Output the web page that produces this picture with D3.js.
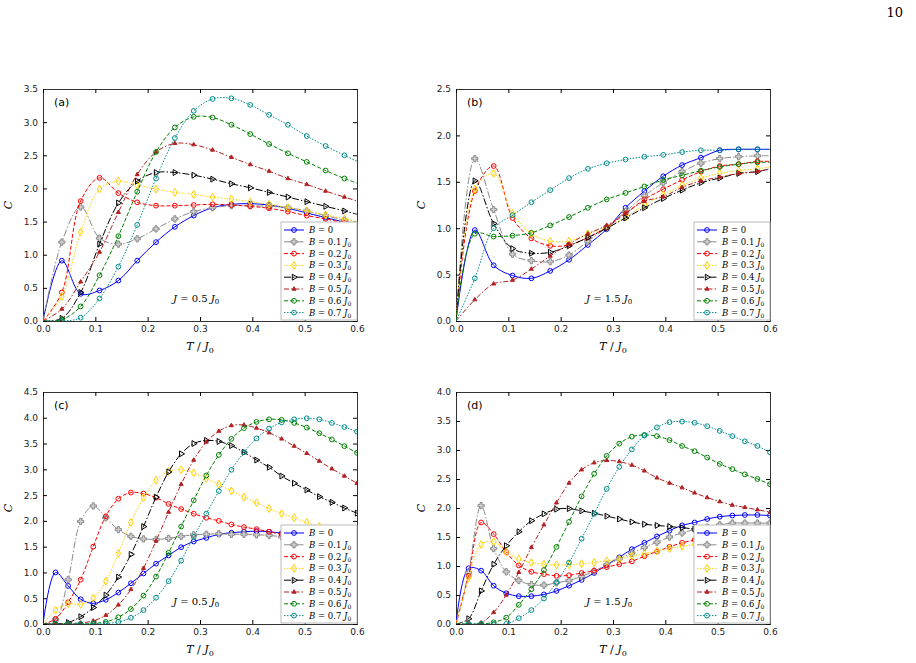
<!DOCTYPE html>
<html><head><meta charset="utf-8">
<script src="https://cdn.jsdelivr.net/npm/d3@7"></script>
<style>body{margin:0;background:#fff}svg{display:block}</style>
</head><body>
<svg id="fig" width="916" height="663"></svg>
<script>
// grids of T/J0 (markers sit on these)
var gridA = [0, 0.036, 0.072, 0.108, 0.144, 0.18, 0.216, 0.252, 0.288, 0.324, 0.36, 0.396, 0.432, 0.468, 0.504, 0.54, 0.576, 0.6];
var gridC = [0, 0.024, 0.048, 0.072, 0.096, 0.12, 0.144, 0.168, 0.192, 0.216, 0.24, 0.264, 0.288, 0.312, 0.336, 0.36, 0.384, 0.408, 0.432, 0.456, 0.48, 0.504, 0.528, 0.552, 0.576, 0.6];

var fieldLabels = ['0', '0.1', '0.2', '0.3', '0.4', '0.5', '0.6', '0.7'];

// panel (a)  J = 0.5 J0
var panelA = [
  [0, 0.91, 0.41, 0.46, 0.61, 0.91, 1.19, 1.42, 1.59, 1.71, 1.76, 1.77, 1.75, 1.70, 1.63, 1.56, 1.49, 1.44],
  [0, 1.19, 1.72, 1.25, 1.16, 1.24, 1.39, 1.54, 1.65, 1.71, 1.74, 1.74, 1.73, 1.71, 1.66, 1.59, 1.52, 1.47],
  [0, 0.43, 1.81, 2.16, 1.93, 1.79, 1.74, 1.74, 1.75, 1.76, 1.75, 1.73, 1.70, 1.65, 1.59, 1.54, 1.48, 1.44],
  [0, 0.37, 1.34, 1.99, 2.11, 2.05, 1.99, 1.94, 1.91, 1.87, 1.84, 1.80, 1.76, 1.71, 1.66, 1.60, 1.54, 1.50],
  [0, 0.04, 0.43, 1.16, 1.78, 2.11, 2.24, 2.24, 2.20, 2.14, 2.07, 2.01, 1.94, 1.87, 1.80, 1.73, 1.66, 1.61],
  [0, 0.18, 0.59, 1.04, 1.64, 2.21, 2.55, 2.68, 2.66, 2.58, 2.47, 2.36, 2.26, 2.15, 2.06, 1.96, 1.87, 1.81],
  [0, 0.02, 0.22, 0.69, 1.28, 1.95, 2.55, 2.92, 3.08, 3.07, 2.96, 2.82, 2.67, 2.53, 2.40, 2.27, 2.15, 2.08],
  [0, 0.00, 0.05, 0.34, 0.82, 1.45, 2.15, 2.76, 3.17, 3.35, 3.36, 3.26, 3.11, 2.96, 2.79, 2.64, 2.50, 2.41]
];
// panel (b)  J = 1.5 J0
var panelB = [
  [0, 0.98, 0.60, 0.49, 0.46, 0.54, 0.66, 0.82, 0.99, 1.22, 1.40, 1.56, 1.68, 1.76, 1.84, 1.85, 1.85, 1.85],
  [0, 1.75, 1.20, 0.72, 0.65, 0.64, 0.71, 0.86, 1.01, 1.18, 1.35, 1.49, 1.61, 1.70, 1.75, 1.77, 1.78, 1.78],
  [0, 1.40, 1.67, 1.11, 0.89, 0.81, 0.82, 0.90, 1.01, 1.16, 1.31, 1.42, 1.52, 1.61, 1.67, 1.69, 1.72, 1.72],
  [0, 1.42, 1.59, 1.16, 0.94, 0.86, 0.86, 0.94, 1.01, 1.12, 1.25, 1.36, 1.46, 1.54, 1.59, 1.62, 1.64, 1.66],
  [0, 1.51, 1.05, 0.78, 0.73, 0.74, 0.81, 0.90, 1.00, 1.11, 1.22, 1.32, 1.41, 1.49, 1.54, 1.59, 1.61, 1.64],
  [0, 0.23, 0.40, 0.44, 0.56, 0.70, 0.83, 0.94, 1.03, 1.16, 1.29, 1.34, 1.44, 1.51, 1.55, 1.59, 1.61, 1.64],
  [0, 0.94, 0.91, 0.92, 0.95, 1.03, 1.12, 1.22, 1.31, 1.38, 1.45, 1.52, 1.57, 1.62, 1.66, 1.69, 1.71, 1.71],
  [0, 0.46, 1.00, 1.14, 1.28, 1.41, 1.54, 1.64, 1.70, 1.74, 1.77, 1.79, 1.82, 1.84, 1.84, 1.85, 1.85, 1.85]
];
// panel (c)  J = 0.5 J0
var panelC = [
  [0, 1.00, 0.74, 0.48, 0.40, 0.47, 0.61, 0.79, 0.98, 1.17, 1.33, 1.49, 1.60, 1.67, 1.74, 1.77, 1.79, 1.80, 1.79, 1.76, 1.71, 1.66, 1.61, 1.55, 1.50, 1.45],
  [0, 0.08, 0.86, 1.99, 2.29, 2.06, 1.83, 1.70, 1.65, 1.64, 1.66, 1.70, 1.73, 1.74, 1.75, 1.74, 1.74, 1.73, 1.72, 1.69, 1.65, 1.62, 1.58, 1.55, 1.51, 1.47],
  [0, 0.10, 0.42, 0.86, 1.50, 2.09, 2.43, 2.55, 2.53, 2.45, 2.33, 2.23, 2.14, 2.06, 2.00, 1.93, 1.88, 1.84, 1.79, 1.74, 1.69, 1.64, 1.58, 1.53, 1.48, 1.44],
  [0, 0.27, 0.39, 0.38, 0.50, 0.83, 1.37, 1.97, 2.45, 2.79, 2.96, 2.99, 2.93, 2.82, 2.71, 2.58, 2.46, 2.35, 2.24, 2.14, 2.06, 1.97, 1.89, 1.82, 1.75, 1.69],
  [0, 0.00, 0.03, 0.14, 0.32, 0.56, 0.91, 1.35, 1.89, 2.46, 2.95, 3.30, 3.50, 3.56, 3.54, 3.46, 3.33, 3.18, 3.04, 2.87, 2.73, 2.60, 2.47, 2.36, 2.25, 2.15],
  [0, 0.00, 0.01, 0.02, 0.06, 0.17, 0.37, 0.67, 1.08, 1.61, 2.17, 2.71, 3.18, 3.53, 3.74, 3.85, 3.86, 3.80, 3.71, 3.59, 3.45, 3.31, 3.16, 3.01, 2.87, 2.73],
  [0, 0.00, 0.00, 0.00, 0.01, 0.04, 0.13, 0.29, 0.55, 0.92, 1.38, 1.89, 2.40, 2.88, 3.28, 3.59, 3.80, 3.92, 3.97, 3.96, 3.90, 3.81, 3.70, 3.58, 3.45, 3.32],
  [0, 0.00, 0.00, 0.00, 0.00, 0.01, 0.04, 0.12, 0.27, 0.51, 0.83, 1.23, 1.69, 2.14, 2.58, 2.99, 3.33, 3.60, 3.79, 3.91, 3.97, 3.99, 3.97, 3.90, 3.82, 3.73]
];
// panel (d)  J = 1.5 J0
var panelD = [
  [0, 0.96, 0.92, 0.66, 0.53, 0.48, 0.48, 0.51, 0.57, 0.66, 0.76, 0.88, 1.02, 1.15, 1.29, 1.40, 1.51, 1.61, 1.70, 1.75, 1.81, 1.85, 1.87, 1.88, 1.88, 1.87],
  [0, 0.89, 2.04, 1.30, 0.90, 0.75, 0.68, 0.67, 0.71, 0.75, 0.82, 0.91, 1.02, 1.12, 1.22, 1.32, 1.41, 1.50, 1.57, 1.63, 1.67, 1.71, 1.74, 1.74, 1.74, 1.74],
  [0, 0.83, 1.75, 1.55, 1.24, 1.01, 0.90, 0.86, 0.83, 0.84, 0.88, 0.92, 0.98, 1.03, 1.08, 1.17, 1.25, 1.33, 1.40, 1.45, 1.50, 1.55, 1.58, 1.61, 1.63, 1.64],
  [0, 0.79, 1.37, 1.42, 1.24, 1.12, 1.06, 1.03, 1.02, 1.02, 1.04, 1.06, 1.09, 1.12, 1.17, 1.21, 1.26, 1.30, 1.34, 1.37, 1.41, 1.44, 1.47, 1.49, 1.51, 1.52],
  [0, 0.09, 0.57, 1.03, 1.35, 1.59, 1.78, 1.90, 1.98, 1.99, 1.95, 1.91, 1.86, 1.81, 1.76, 1.72, 1.70, 1.68, 1.66, 1.64, 1.63, 1.62, 1.61, 1.60, 1.59, 1.58],
  [0, 0.00, 0.02, 0.20, 0.50, 0.89, 1.32, 1.71, 2.09, 2.43, 2.66, 2.78, 2.82, 2.80, 2.74, 2.64, 2.52, 2.43, 2.35, 2.26, 2.18, 2.11, 2.05, 2.01, 1.97, 1.93],
  [0, 0.00, 0.00, 0.03, 0.11, 0.33, 0.60, 0.93, 1.33, 1.76, 2.20, 2.59, 2.90, 3.11, 3.23, 3.26, 3.24, 3.17, 3.07, 2.98, 2.87, 2.76, 2.67, 2.58, 2.50, 2.41],
  [0, 0.00, 0.00, 0.00, 0.00, 0.10, 0.24, 0.44, 0.72, 1.06, 1.47, 1.90, 2.33, 2.71, 3.01, 3.25, 3.39, 3.48, 3.49, 3.47, 3.41, 3.33, 3.24, 3.15, 3.07, 2.96]
];

var colors = ['#0000ff', '#8c8c8c', '#ff0000', '#ffd000', '#000000', '#b22222', '#008000', '#008b8b'];
var dashes = [null, '7,2,1.5,2', '4,2', '1.5,1.5', '7,2,1.5,2', '5,2,1.5,2', '4,2', '1.5,1.5'];
var shapes = ['circle', 'cross', 'circle', 'diamond', 'tri-right', 'tri-up', 'circle', 'pentagon'];

var svg = d3.select('#fig');
svg.append('text').attr('x', 903).attr('y', 17).attr('text-anchor', 'end')
  .attr('font-family', 'DejaVu Serif').attr('font-size', 13).text('10');

function marker(g, shape, x, y, col) {
  var m;
  if (shape == 'circle') m = g.append('circle').attr('cx', x).attr('cy', y).attr('r', 2.4);
  else {
    var sym = {cross: d3.symbolCross, diamond: d3.symbolDiamond, 'tri-up': d3.symbolTriangle,
               'tri-right': d3.symbolTriangle, pentagon: d3.symbolCircle}[shape];
    var size = {cross: 22, diamond: 18, 'tri-up': 7, 'tri-right': 15, pentagon: 18}[shape];
    m = g.append('path').attr('d', d3.symbol(sym, size)())
      .attr('transform', 'translate(' + x + ',' + y + ')' + (shape == 'tri-right' ? ' rotate(90)' : ''));
  }
  m.attr('fill', shape == 'cross' ? '#d0d0d0' : (shape == 'tri-up' ? col : 'none'))
   .attr('stroke', col).attr('stroke-width', 1);
}

function drawPanel(ox, oy, grid, step, series, ymax, ystep, tag, jtext) {
  var w = 314, h = 232;
  var x = d3.scaleLinear().domain([0, 0.6]).range([ox, ox + w]);
  var y = d3.scaleLinear().domain([0, ymax]).range([oy + h, oy]);
  var g = svg.append('g');
  var clip = 'clip' + tag;
  g.append('clipPath').attr('id', clip).append('rect').attr('x', ox).attr('y', oy).attr('width', w).attr('height', h);

  var yt = d3.range(0, ymax + 1e-9, ystep);
  var xt = d3.range(0, 0.6001, 0.1);
  g.append('g').attr('transform', 'translate(0,' + (oy + h) + ')')
    .call(d3.axisBottom(x).tickValues(xt).tickFormat(d3.format('.1f')).tickSize(-4).tickPadding(5));
  g.append('g').attr('transform', 'translate(' + ox + ',0)')
    .call(d3.axisLeft(y).tickValues(yt).tickFormat(d3.format('.1f')).tickSize(-4).tickPadding(5));
  g.append('g').attr('transform', 'translate(0,' + oy + ')')
    .call(d3.axisTop(x).tickValues(xt).tickFormat('').tickSize(-4));
  g.append('g').attr('transform', 'translate(' + (ox + w) + ',0)')
    .call(d3.axisRight(y).tickValues(yt).tickFormat('').tickSize(-4));
  g.selectAll('.domain').attr('stroke', '#333');
  g.selectAll('.tick text').attr('font-family', 'DejaVu Sans').attr('font-size', 9).attr('fill', '#222');

  var line = d3.line().x(function(d) { return x(d[0]); }).y(function(d) { return y(d[1]); })
    .curve(d3.curveCatmullRom.alpha(0.5));
  var plot = g.append('g').attr('clip-path', 'url(#' + clip + ')');
  series.forEach(function(vals, i) {
    var pts = grid.map(function(t, k) { return [t, vals[k]]; });
    plot.append('path').attr('d', line(pts)).attr('fill', 'none').attr('stroke', colors[i])
      .attr('stroke-width', 1).attr('stroke-dasharray', dashes[i]);
    pts.forEach(function(p, k) {
      var r = p[0] / step;
      if (k > 0 && Math.abs(r - Math.round(r)) < 1e-6) marker(plot, shapes[i], x(p[0]), y(p[1]), colors[i]);
    });
  });

  // legend
  var lx = ox + w - 76, ly = oy + h - 99;
  var lg = g.append('g');
  lg.append('rect').attr('x', lx).attr('y', ly).attr('width', 76).attr('height', 98)
    .attr('fill', '#fff').attr('stroke', '#bbb');
  fieldLabels.forEach(function(b, i) {
    var yy = ly + 8 + i * 11.8;
    lg.append('line').attr('x1', lx + 3).attr('x2', lx + 23).attr('y1', yy).attr('y2', yy)
      .attr('stroke', colors[i]).attr('stroke-dasharray', dashes[i]);
    marker(lg, shapes[i], lx + 13, yy, colors[i]);
    var t = lg.append('text').attr('x', lx + 28).attr('y', yy + 3)
      .attr('font-family', 'DejaVu Serif').attr('font-size', 8.5);
    t.append('tspan').attr('font-style', 'italic').text('B');
    t.append('tspan').text(' = ' + b);
    if (b != '0') {
      t.append('tspan').attr('font-style', 'italic').text(' J');
      t.append('tspan').attr('font-size', 6).attr('dy', 2).text('0');
    }
  });

  var jt = g.append('text').attr('x', ox + 130).attr('y', oy + h - 19)
    .attr('font-family', 'DejaVu Serif').attr('font-size', 10);
  jt.append('tspan').attr('font-style', 'italic').text('J');
  jt.append('tspan').text(' = ' + jtext + ' ');
  jt.append('tspan').attr('font-style', 'italic').text('J');
  jt.append('tspan').attr('font-size', 7).attr('dy', 2).text('0');

  g.append('text').attr('x', ox + 11).attr('y', oy + 17).attr('font-family', 'DejaVu Sans')
    .attr('font-size', 11).text('(' + tag + ')');
  g.append('text').attr('transform', 'translate(' + (ox - 31) + ',' + (oy + h / 2) + ') rotate(-90)')
    .attr('text-anchor', 'middle').attr('font-family', 'DejaVu Serif').attr('font-style', 'italic')
    .attr('font-size', 11).text('C');
  var xl = g.append('text').attr('x', ox + w / 2).attr('y', oy + h + 29).attr('text-anchor', 'middle')
    .attr('font-family', 'DejaVu Serif').attr('font-size', 11);
  xl.append('tspan').attr('font-style', 'italic').text('T');
  xl.append('tspan').text(' / ');
  xl.append('tspan').attr('font-style', 'italic').text('J');
  xl.append('tspan').attr('font-size', 8).attr('dy', 3).text('0');
}

drawPanel(43, 89, gridA, 0.036, panelA, 3.5, 0.5, 'a', '0.5');
drawPanel(456, 89, gridA, 0.036, panelB, 2.5, 0.5, 'b', '1.5');
drawPanel(43, 392, gridC, 0.024, panelC, 4.5, 0.5, 'c', '0.5');
drawPanel(456, 392, gridC, 0.024, panelD, 4.0, 0.5, 'd', '1.5');
</script>
</body></html>
